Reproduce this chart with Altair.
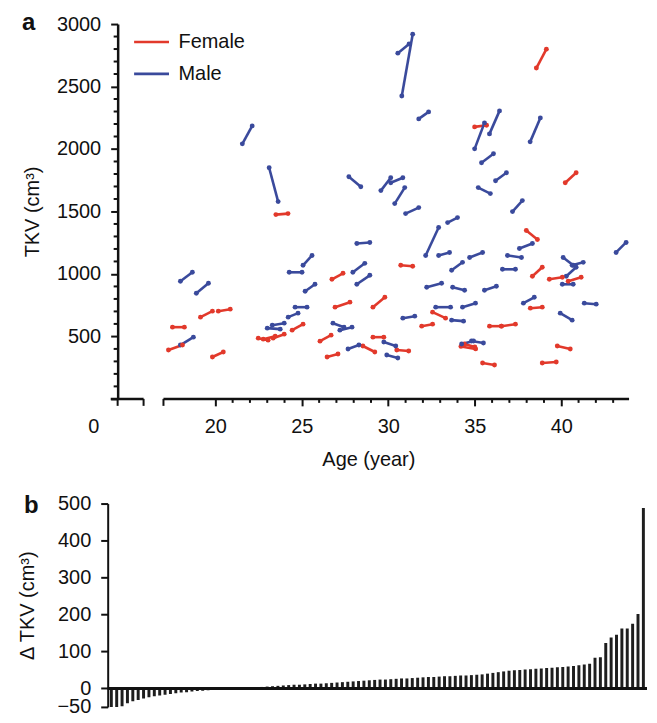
import altair as alt
import pandas as pd

FONT = "Liberation Sans"
RED = "#e2392b"
BLUE = "#3a4a9c"

# ---------------- Panel a: TKV at two visits per patient ----------------
f_age1 = [23.5, 38.56, 34.99, 40.23, 37.98, 26.74, 30.72, 38.33, 39.31, 40.4, 38.21, 29.11,
          32.56, 31.93, 35.85, 36.54, 34.2, 34.4, 35.45, 38.9, 39.77, 26.46, 28.53, 29.11,
          30.49, 26.92, 24.44, 26.05, 19.14, 20.17, 17.52, 17.29, 19.83, 22.48, 22.77, 23.34]
f_tkv1 = [1475, 2648, 2177, 1730, 1348, 957, 1069, 981, 957, 941, 726, 734,
          694, 582, 582, 582, 420, 440, 287, 287, 423, 335, 423, 494,
          391, 734, 550, 462, 654, 702, 574, 391, 335, 486, 478, 486]
f_age2 = [24.2, 39.14, 35.68, 40.86, 38.62, 27.38, 31.41, 38.9, 40.06, 41.15, 38.9, 29.8,
          33.31, 32.56, 36.54, 37.35, 35.05, 35.0, 36.14, 39.71, 40.52, 27.09, 29.22, 29.74,
          31.18, 27.78, 25.07, 26.69, 19.83, 20.86, 18.21, 18.1, 20.46, 23.05, 23.46, 23.98]
f_tkv2 = [1483, 2799, 2190, 1810, 1276, 1005, 1061, 1053, 973, 973, 734, 813,
          646, 598, 582, 598, 400, 415, 271, 295, 399, 359, 375, 494,
          383, 774, 598, 510, 702, 718, 574, 431, 375, 470, 502, 518]

m_age1 = [21.56, 23.11, 30.78, 30.55, 31.76, 34.99, 35.85, 38.2, 35.39, 27.72, 29.57, 30.14,
          30.37, 31.0, 33.43, 35.2, 36.2, 37.18, 28.18, 32.16, 32.91, 34.7, 36.89, 37.58,
          43.17, 27.95, 28.18, 33.66, 36.6, 40.11, 40.63, 40.29, 40.06, 32.22, 33.72, 35.56,
          37.81, 41.33, 39.94, 32.74, 34.29, 30.84, 33.66, 34.24, 34.81, 27.67, 29.74, 29.91,
          26.8, 27.2, 25.07, 24.27, 25.19, 24.61, 24.21, 23.29, 23.0, 17.98, 18.9, 17.98]
m_tkv1 = [2041, 1850, 2424, 2767, 2241, 2001, 2121, 2057, 1890, 1778, 1667, 1730,
          1563, 1483, 1411, 1691, 1746, 1499, 1244, 1148, 1148, 1132, 1148, 1204,
          1172, 1013, 917, 1029, 1037, 1132, 1069, 981, 917, 893, 893, 869,
          766, 766, 686, 734, 734, 646, 630, 439, 463, 399, 455, 351,
          606, 550, 1069, 1013, 861, 734, 654, 590, 566, 941, 845, 431]
m_age2 = [22.13, 23.63, 31.41, 31.2, 32.33, 35.56, 36.43, 38.79, 36.08, 28.41, 30.14, 30.84,
          30.95, 31.76, 34.0, 35.9, 36.83, 37.75, 28.93, 32.91, 33.54, 35.45, 37.7, 38.33,
          43.75, 28.64, 28.93, 34.29, 37.35, 40.69, 41.27, 40.86, 40.69, 33.08, 34.41, 36.25,
          38.44, 42.02, 40.63, 33.6, 35.04, 31.53, 34.35, 34.93, 35.5, 28.3, 30.43, 30.55,
          27.44, 27.9, 25.59, 25.01, 25.76, 25.3, 24.78, 23.98, 23.75, 18.67, 19.6, 18.73]
m_tkv2 = [2185, 1579, 2919, 2840, 2297, 2209, 2305, 2249, 1962, 1698, 1770, 1770,
          1691, 1531, 1451, 1643, 1810, 1587, 1252, 1372, 1172, 1172, 1132, 1244,
          1252, 1085, 989, 1093, 1037, 1069, 1093, 1053, 917, 925, 869, 901,
          813, 758, 630, 734, 766, 662, 622, 463, 447, 431, 423, 327,
          574, 574, 1148, 1013, 917, 734, 686, 606, 558, 1013, 925, 494]

# ---------------- Panel b: sorted change in TKV ----------------
delta_tkv = [-75, -68, -48, -40, -35, -31, -27, -24, -21, -19, -17, -15, -13, -11, -10, -8, -7, -6, -5, -4,
             -3, -2, -2, -1, -1, 0,
             2, 3, 4, 5, 6, 7, 8, 9, 10, 10, 11, 12,
             13, 13, 14, 15, 16, 17, 18, 19, 20, 21, 22,
             23, 24, 24, 25, 26, 27, 27, 28, 29, 30,
             31, 31, 32, 33, 33,
             34, 35, 35, 36, 37, 38, 40, 42, 44, 46, 48, 49, 50, 51, 52, 53, 54, 55,
             56, 57, 58, 59, 61, 63, 65, 67, 83, 84, 123, 138, 145, 162, 162, 175, 201, 488]

x_major = [20, 25, 30, 35, 40]
x_minor = [21, 22, 23, 24, 26, 27, 28, 29, 31, 32, 33, 34, 36, 37, 38, 39, 41, 42, 43]
y_major = [0, 500, 1000, 1500, 2000, 2500, 3000]
y_minor = [v for v in range(100, 3000, 100) if v % 500 != 0]
b_ticks = [-50, 0, 100, 200, 300, 400, 500]

# axis break pieces (decoration)
xaxis_start = [13.95, 17.0]
xaxis_end = [15.85, 43.92]
break_ticks = [14.35, 15.85, 17.0]

# ---------------- build tables ----------------
seg = pd.DataFrame({
    "sex": ["Female"] * len(f_age1) + ["Male"] * len(m_age1),
    "age1": f_age1 + m_age1, "tkv1": f_tkv1 + m_tkv1,
    "age2": f_age2 + m_age2, "tkv2": f_tkv2 + m_tkv2,
})
pts = pd.concat([
    seg[["sex", "age1", "tkv1"]].rename(columns={"age1": "age", "tkv1": "tkv"}),
    seg[["sex", "age2", "tkv2"]].rename(columns={"age2": "age", "tkv2": "tkv"}),
])
axis_df = pd.DataFrame({"a": xaxis_start, "b": xaxis_end})
brk_df = pd.DataFrame({"a": break_ticks})
xminor_df = pd.DataFrame({"a": x_minor})
yminor_df = pd.DataFrame({"v": y_minor})
bars = pd.DataFrame({"idx": list(range(len(delta_tkv))), "delta": delta_tkv})

WA, HA = 523, 376
WB, HB = 541, 204
YOFF = 10  # y axis sits 10px inside panel a's plot box

xscale = alt.Scale(domain=[13.775, 43.92], nice=False, zero=False)
yscale = alt.Scale(domain=[0, 3000], nice=False, zero=False)
color = alt.Scale(domain=["Female", "Male"], range=[RED, BLUE])

x_axis = alt.Axis(
    values=x_major, format="d", labelOverlap=False, tickSize=7,
    domain=False, grid=False, title="Age (year)", labelPadding=11, titlePadding=13,
    tickColor="#111", tickWidth=2,
)
y_axis = alt.Axis(
    values=y_major, format="d", labelOverlap=False, offset=-YOFF,
    labelExpr="datum.value > 0 ? datum.label : ''", tickSize=7,
    domain=True, domainWidth=2.5, domainColor="#111", grid=False,
    title="TKV (cm³)", labelPadding=10, titlePadding=14, tickColor="#111", tickWidth=2,
)

segments = alt.Chart(seg).mark_rule(strokeWidth=2.6).encode(
    x=alt.X("age1:Q", scale=xscale, axis=x_axis),
    x2="age2:Q",
    y=alt.Y("tkv1:Q", scale=yscale, axis=y_axis),
    y2="tkv2:Q",
    color=alt.Color("sex:N", scale=color, legend=alt.Legend(
        title=None, orient="none", legendX=25, legendY=-1, symbolType="stroke",
        symbolSize=1225, symbolStrokeWidth=2.6, labelFontSize=20, labelFont=FONT,
        labelColor="#111", labelOffset=8, rowPadding=3)),
)
dots = alt.Chart(pts).mark_circle(size=24, opacity=1).encode(
    x=alt.X("age:Q", scale=xscale),
    y=alt.Y("tkv:Q", scale=yscale),
    color=alt.Color("sex:N", scale=color, legend=None),
)
xline = alt.Chart(axis_df).mark_rule(strokeWidth=2.5, color="#111").encode(
    x=alt.X("a:Q", scale=xscale), x2="b:Q", y=alt.value(HA),
)
brk = alt.Chart(brk_df).mark_rule(strokeWidth=2, color="#111").encode(
    x=alt.X("a:Q", scale=xscale), y=alt.value(HA), y2=alt.value(HA + 7),
)
xminor = alt.Chart(xminor_df).mark_rule(strokeWidth=2, color="#111").encode(
    x=alt.X("a:Q", scale=xscale), y=alt.value(HA), y2=alt.value(HA + 4),
)
yminor = alt.Chart(yminor_df).mark_rule(strokeWidth=2, color="#111").encode(
    y=alt.Y("v:Q", scale=yscale), x=alt.value(YOFF), x2=alt.value(YOFF - 4),
)
zero_lbl = alt.Chart(pd.DataFrame({"t": ["0"]})).mark_text(
    font=FONT, fontSize=20, baseline="top", align="center", color="#111").encode(
    x=alt.datum(12.97), y=alt.value(HA + 18), text="t:N")
a_lbl = alt.Chart(pd.DataFrame({"t": ["a"]})).mark_text(
    font=FONT, fontSize=24, fontWeight="bold", baseline="middle", align="left", color="#111").encode(
    x=alt.value(-86), y=alt.value(-1), text="t:N")

panel_a = alt.layer(segments, dots, xline, brk, xminor, yminor, zero_lbl, a_lbl).properties(
    width=WA, height=HA)

bar_y = alt.Scale(domain=[-50, 500], nice=False, zero=True)
b_axis = alt.Axis(
    values=b_ticks, format="d", labelOverlap=False, grid=False, domainWidth=2,
    domainColor="#111", tickColor="#111", tickWidth=2, tickSize=7,
    labelPadding=10, titlePadding=19, title="Δ TKV (cm³)")
barc = alt.Chart(bars).mark_bar(color="#1e1e1e", clip=True).encode(
    x=alt.X("idx:O", axis=None, scale=alt.Scale(paddingInner=0.45, paddingOuter=0.4)),
    y=alt.Y("delta:Q", scale=bar_y, axis=b_axis),
)
zero_rule = alt.Chart(pd.DataFrame({"delta": [0]})).mark_rule(strokeWidth=3, color="#111").encode(
    y=alt.Y("delta:Q", scale=bar_y, axis=b_axis))
b_lbl = alt.Chart(pd.DataFrame({"t": ["b"]})).mark_text(
    font=FONT, fontSize=24, fontWeight="bold", baseline="middle", align="left", color="#111").encode(
    x=alt.value(-84), y=alt.value(2), text="t:N")
panel_b = alt.layer(barc, zero_rule, b_lbl).properties(width=WB, height=HB)

chart = alt.vconcat(panel_a, panel_b, spacing=24).properties(
    padding={"left": 10, "top": 2, "right": 0, "bottom": -5}
).configure_view(stroke=None).configure_axis(
    labelFont=FONT, titleFont=FONT, labelFontSize=20, titleFontSize=20,
    labelColor="#111", titleColor="#111", titleFontWeight="normal",
).configure_concat(spacing=24)

chart.save("out.html", embed_options={"renderer": "svg", "actions": False})
